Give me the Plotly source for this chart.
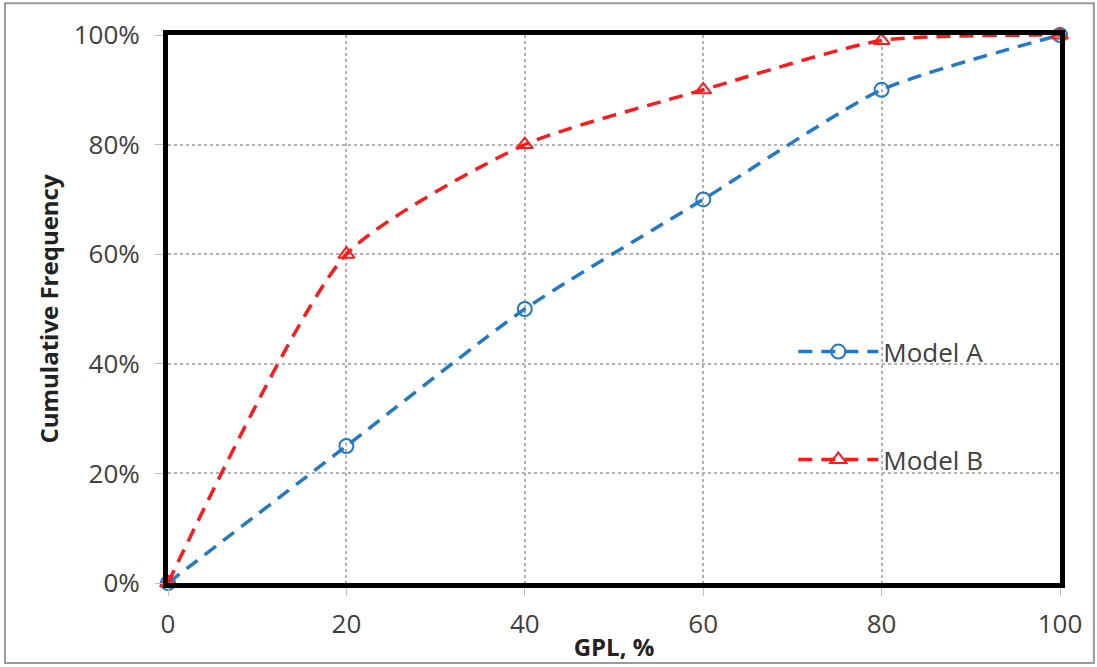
import plotly.graph_objects as go

gpl = [0, 20, 40, 60, 80, 100]
model_a = [0.0, 0.25, 0.50, 0.70, 0.90, 1.00]
model_b = [0.0, 0.60, 0.80, 0.90, 0.99, 1.00]
x_ticks = [0, 20, 40, 60, 80, 100]
y_ticks = [0, 0.2, 0.4, 0.6, 0.8, 1.0]
y_tick_labels = ["0%", "20%", "40%", "60%", "80%", "100%"]

fig = go.Figure()
fig.add_trace(go.Scatter(
    x=gpl, y=model_a, name="Model A", mode="lines+markers",
    line=dict(color="#2279c7", width=3.5, dash="14px,9px", shape="spline", smoothing=0.6),
    marker=dict(symbol="circle-open", size=14, color="#2279c7", line=dict(width=2)),
    cliponaxis=False, legendgroup="a"))
fig.add_trace(go.Scatter(
    x=gpl, y=model_b, name="Model B", mode="lines+markers",
    line=dict(color="#ff1a1a", width=3.5, dash="14px,9px", shape="spline", smoothing=0.6),
    marker=dict(symbol="triangle-up-open", size=14, color="#ff1a1a", line=dict(width=2)),
    cliponaxis=False, legendgroup="b"))

fig.update_layout(
    width=1097, height=667,
    margin=dict(l=168, r=37, t=35, b=84),
    paper_bgcolor="white", plot_bgcolor="white",
    font=dict(family="Open Sans, Lato, sans-serif", size=26, color="#404040"),
    showlegend=True,
    legend=dict(x=0.701, y=0.465, xanchor="left", yanchor="top",
                bgcolor="rgba(0,0,0,0)", tracegroupgap=71, itemwidth=80,
                font=dict(size=26, color="#404040")),
    shapes=[dict(type="rect", xref="paper", yref="paper",
                 x0=-0.1827, x1=1.038, y0=-0.146, y1=1.058,
                 line=dict(color="#9a9a9a", width=2), layer="below")],
)
fig.update_xaxes(
    range=[0, 100], tickvals=x_ticks, ticktext=[str(v) for v in x_ticks],
    showgrid=True, gridcolor="#b0b0b0", griddash="dot", gridwidth=1.5,
    showline=True, linecolor="black", linewidth=5, mirror=True,
    ticks="outside", ticklen=8, tickcolor="#c0c0c0", zeroline=False,
    ticklabelstandoff=6, automargin=False,
    title=dict(text="<b>GPL, %</b>", font=dict(size=24, color="#222222"), standoff=0))
fig.update_yaxes(
    range=[0, 1], tickvals=y_ticks, ticktext=y_tick_labels,
    showgrid=True, gridcolor="#b0b0b0", griddash="dot", gridwidth=1.5,
    showline=True, linecolor="black", linewidth=5, mirror=True,
    ticks="outside", ticklen=8, tickcolor="#c0c0c0", zeroline=False,
    ticklabelstandoff=10, automargin=False,
    title=dict(text="<b>Cumulative Frequency</b>", font=dict(size=24, color="#222222"), standoff=10))

fig.write_html("out.html", config={"displayModeBar": False},
               post_script="document.body.style.margin='0';")
